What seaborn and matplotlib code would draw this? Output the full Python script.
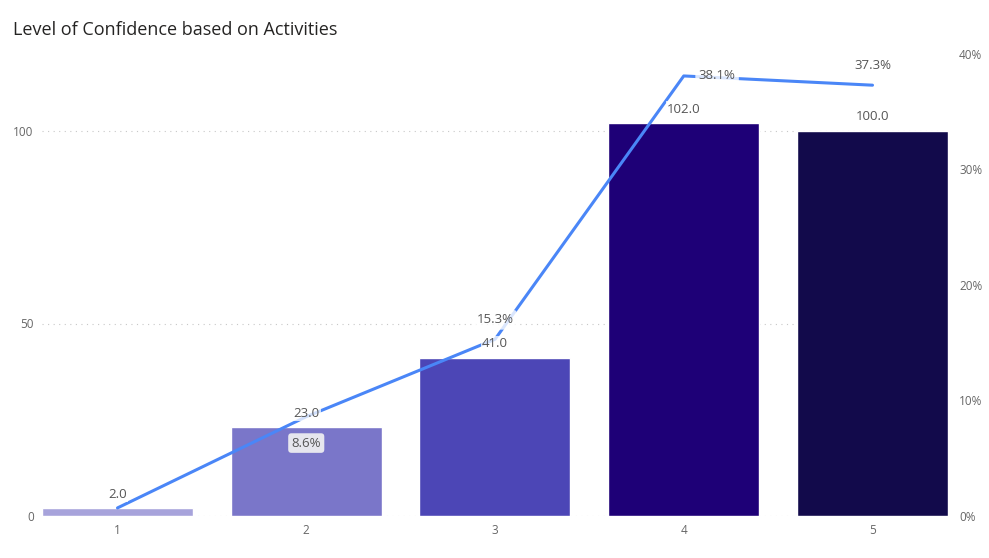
import matplotlib
matplotlib.use("Agg")
import matplotlib.pyplot as plt
import seaborn as sns
import numpy as np
import pandas as pd
from matplotlib.ticker import FuncFormatter, FixedLocator

categories = ["1", "2", "3", "4", "5"]
counts = [2.0, 23.0, 41.0, 102.0, 100.0]
pct = [0.7, 8.6, 15.3, 38.1, 37.3]
bar_colors = ["#A7A3DB", "#7A76C9", "#4C46B6", "#1E0077", "#120A4B"]
line_color = "#4A86F7"

sns.set_theme(style="white")
plt.rcParams["font.family"] = ["Open Sans", "DejaVu Sans"]

fig = plt.figure(figsize=(9.89, 5.58), dpi=100)
ax = fig.add_axes([42 / 989, 1 - 516 / 558, (948 - 42) / 989, (516 - 54) / 558])

df = pd.DataFrame({"cat": categories, "count": counts, "pct": pct})
sns.barplot(data=df, x="cat", y="count", hue="cat", palette=bar_colors,
            width=0.8, legend=False, ax=ax, saturation=1, zorder=2)
ax.set_xlim(-0.4, len(categories) - 0.6)
ax.set_ylim(0, 120)
ax.yaxis.set_major_locator(FixedLocator([0, 50, 100]))
ax.grid(axis="y", color="#C8C8C8", linestyle=(0, (1, 4)), linewidth=0.8, zorder=0)
ax.grid(axis="x", visible=False)
for s in ax.spines.values():
    s.set_visible(False)
ax.set_xlabel("")
ax.set_ylabel("")
ax.tick_params(axis="both", length=0, labelsize=8.5, labelcolor="#666666", pad=6)

ax2 = ax.twinx()
xs = np.arange(len(categories))
sns.lineplot(x=xs, y=np.array(pct) / 100, color=line_color, linewidth=2.2, ax=ax2, zorder=3)
ax2.set_ylim(0, 0.40)
ax2.yaxis.set_major_locator(FixedLocator([0, 0.1, 0.2, 0.3, 0.4]))
ax2.yaxis.set_major_formatter(FuncFormatter(lambda v, p: f"{v*100:.0f}%"))
for s in ax2.spines.values():
    s.set_visible(False)
ax2.set_ylabel("")
ax2.tick_params(axis="y", length=0, labelsize=8.5, labelcolor="#666666", pad=8)
ax2.grid(False)

# bar value labels (drawn on ax2 so they sit above the line)
for i, v in enumerate(counts):
    ax2.text(i, v + 2.0, f"{v:.1f}", ha="center", va="bottom", fontsize=9.5,
             color="#555555", zorder=5, transform=ax.transData,
             bbox=dict(boxstyle="square,pad=0.1", fc="white", ec="none", alpha=0.75))

# label offsets in points (dx, dy) for percent labels
offs = [None, (0, -19), (0, 14), (24, 0), (0, 14)]
for i, p in enumerate(pct):
    if offs[i] is None:
        continue
    dx, dy = offs[i]
    fc = "#E6E6EE" if i == 1 else "white"
    al = 1.0 if i == 1 else 0.8
    ax2.annotate(f"{p:.1f}%", (i, p / 100), xytext=(dx, dy), textcoords="offset points",
                 ha="center", va="center", fontsize=9.5, color="#555555", zorder=6,
                 bbox=dict(boxstyle="round,pad=0.25", fc=fc, ec="none", alpha=al))

fig.text(13 / 989, 1 - 30 / 558, "Level of Confidence based on Activities",
         fontsize=13, color="#252423", ha="left", va="center")

fig.savefig("out.png", dpi=100)
